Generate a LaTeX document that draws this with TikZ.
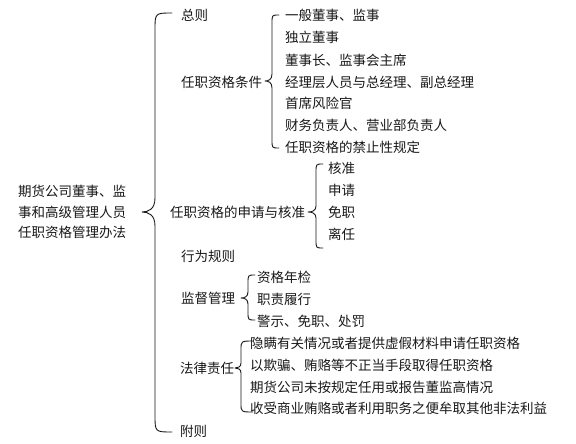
\documentclass[tikz,border=0pt]{standalone}
\usepackage{fontspec}
\newfontfamily\cjk{Noto Sans CJK SC}
\tikzset{
  lbl/.style={anchor=west, inner sep=0pt, font=\cjk\fontsize{13.5}{20.5}\selectfont, text=black!90},
  bracestyle/.style={draw=black!90, line width=0.9pt, line cap=round, line join=round}
}
% xe xv xc ytop yc ybot rend rcusp
\newcommand\mybrace[8]{%
  \draw[bracestyle] (#1,#4) .. controls (#2,#4) .. (#2,#4+#7) -- (#2,#5-#8)
    .. controls (#2,#5-0.2*#8) and (#2*0.5+#3*0.5,#5) .. (#3,#5)
    .. controls (#2*0.5+#3*0.5,#5) and (#2,#5+0.2*#8) .. (#2,#5+#8)
    -- (#2,#6-#7) .. controls (#2,#6) .. (#1,#6);}
\begin{document}
\begin{tikzpicture}[x=1pt,y=-1pt]
\useasboundingbox (0,0) rectangle (576,444);
\fill[white] (0,0) rectangle (576,444);
% root
\node[lbl, align=left] (root) at (18,212) {期货公司董事、监\\事和高级管理人员\\任职资格管理办法};
% level 1
\node[lbl] (zongze) at (181,15) {总则};
\node[lbl] (tiaojian) at (181,82) {任职资格条件};
\node[lbl] (shenqing) at (170,212) {任职资格的申请与核准};
\node[lbl] (xingwei) at (181,256) {行为规则};
\node[lbl] (jiandu) at (181,298) {监督管理};
\node[lbl] (falv) at (180,368) {法律责任};
\node[lbl] (fuze) at (180,431) {附则};
% level 2: tiaojian
\node[lbl] (t1) at (285,15) {一般董事、监事};
\node[lbl] (t2) at (285,37) {独立董事};
\node[lbl] (t3) at (285,60) {董事长、监事会主席};
\node[lbl] (t4) at (285,82) {经理层人员与总经理、副总经理};
\node[lbl] (t5) at (285,103) {首席风险官};
\node[lbl] (t6) at (285,125) {财务负责人、营业部负责人};
\node[lbl] (t7) at (285,147) {任职资格的禁止性规定};
% level 2: shenqing
\node[lbl] (s1) at (328,168) {核准};
\node[lbl] (s2) at (328,190) {申请};
\node[lbl] (s3) at (328,212) {免职};
\node[lbl] (s4) at (328,234) {离任};
% level 2: jiandu
\node[lbl] (j1) at (257,277) {资格年检};
\node[lbl] (j2) at (257,299) {职责履行};
\node[lbl] (j3) at (257,321) {警示、免职、处罚};
% level 2: falv
\node[lbl] (f1) at (250,343) {隐瞒有关情况或者提供虚假材料申请任职资格};
\node[lbl] (f2) at (250,365) {以欺骗、贿赂等不正当手段取得任职资格};
\node[lbl] (f3) at (250,387) {期货公司未按规定任用或报告董监高情况};
\node[lbl] (f4) at (250,408) {收受商业贿赂或者利用职务之便牟取其他非法利益};
% braces
\mybrace{172}{155}{142}{13}{212}{432}{17}{14}
\mybrace{279}{272}{265}{15}{81}{148}{8}{7}
\mybrace{323}{316}{308}{164}{212}{248}{8}{6}
\mybrace{255}{248}{241}{275}{298}{320}{8}{6}
\mybrace{253}{241}{235}{341}{368}{412}{9}{5}
\end{tikzpicture}
\end{document}
